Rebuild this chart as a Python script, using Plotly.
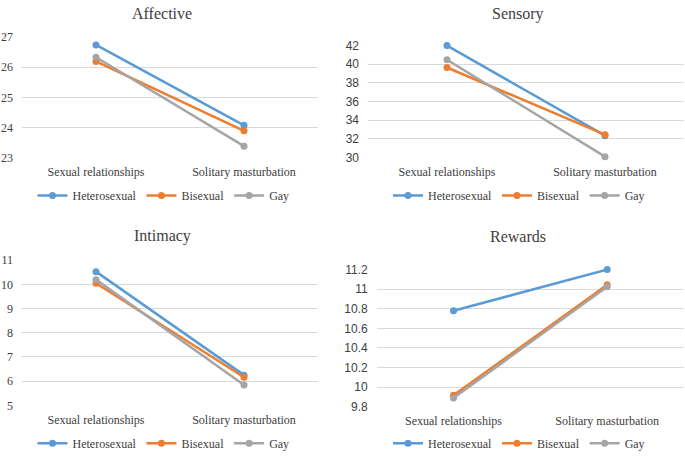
import plotly.graph_objects as go

W, H = 685, 459

categories = ["Sexual relationships", "Solitary masturbation"]
groups = ["Heterosexual", "Bisexual", "Gay"]
colors = ["#5B9BD5", "#ED7D31", "#A5A5A5"]

affective = {"Heterosexual": [26.74, 24.07], "Bisexual": [26.19, 23.89], "Gay": [26.33, 23.38]}
sensory = {"Heterosexual": [42.0, 32.35], "Bisexual": [39.65, 32.45], "Gay": [40.48, 30.1]}
intimacy = {"Heterosexual": [10.53, 6.25], "Bisexual": [10.05, 6.16], "Gay": [10.2, 5.84]}
rewards = {"Heterosexual": [10.78, 11.2], "Bisexual": [9.915, 11.045], "Gay": [9.888, 11.025]}

titles = ["Affective", "Sensory", "Intimacy", "Rewards"]
datasets = [affective, sensory, intimacy, rewards]
y_ranges = [(23, 27, 1), (30, 42, 2), (5, 11, 1), (9.8, 11.2, 0.2)]

SERIF = "Liberation Serif, Times New Roman, serif"
SANS = "Liberation Sans, Arial, sans-serif"

# panel geometry in pixels: x0, x1, ytop(px of max), ybottom(px of min)
panels = [
    (22, 318, 32, 156),
    (368, 684, 40.7, 156),
    (22, 318, 261.7, 411),
    (376.7, 684, 271.3, 412.3),
]
title_pos = [(162, 8), (518, 8), (162, 237), (518, 237)]
legend_pos = [(163.5, 195), (519, 195), (163.5, 450), (519, 450)]
tick_fonts = [SERIF, SANS, SERIF, SANS]

fig = go.Figure()
layout = dict(autosize=True, margin=dict(l=0, r=0, t=0, b=0),
              paper_bgcolor="white", plot_bgcolor="white",
              font=dict(family=SERIF, size=12, color="#404040"),
              annotations=[])

for i, (data, title) in enumerate(zip(datasets, titles)):
    n = i + 1
    xa = "x" if n == 1 else f"x{n}"
    ya = "y" if n == 1 else f"y{n}"
    lg = "legend" if n == 1 else f"legend{n}"
    for g, c in zip(groups, colors):
        fig.add_trace(go.Scatter(
            x=categories, y=data[g], name=g, mode="lines+markers",
            line=dict(color=c, width=2.5), marker=dict(color=c, size=7),
            cliponaxis=False,
            xaxis=xa, yaxis=ya, legend=lg, showlegend=True))
    x0, x1, yt, yb = panels[i]
    lo, hi, dt = y_ranges[i]
    eps = (hi - lo) * 0.004
    ppu = (yb - yt) / (hi - lo)
    yt_e = yt - eps * ppu
    yb_e = yb + eps * ppu
    xkey = "xaxis" if n == 1 else f"xaxis{n}"
    ykey = "yaxis" if n == 1 else f"yaxis{n}"
    layout[xkey] = dict(domain=[x0 / W, x1 / W], anchor=ya, type="category",
                        categoryorder="array", categoryarray=categories,
                        range=[-0.5, 1.5], showgrid=False, zeroline=False,
                        showline=False, ticks="", ticklabelstandoff=5,
                        tickfont=dict(family=SERIF, size=12, color="#404040"),
                        fixedrange=True)
    layout[ykey] = dict(domain=[1 - yb_e / H, 1 - yt_e / H], anchor=xa,
                        range=[lo - eps, hi + eps], tick0=lo, dtick=dt,
                        showgrid=True, gridcolor="#D9D9D9", gridwidth=1,
                        zeroline=False, showline=False, ticks="",
                        ticklabelstandoff=8,
                        tickfont=dict(family=tick_fonts[i], size=12, color="#404040"),
                        fixedrange=True)
    lx, ly = legend_pos[i]
    layout[lg] = dict(orientation="h", x=lx / W, y=1 - ly / H, xanchor="center",
                      yanchor="middle", bgcolor="rgba(0,0,0,0)",
                      font=dict(family=SERIF, size=12, color="#404040"),
                      itemwidth=30, tracegroupgap=0)
    tx, ty = title_pos[i]
    layout["annotations"].append(dict(
        text=title, x=tx / W, y=1 - ty / H, xref="paper", yref="paper",
        xanchor="center", yanchor="middle", showarrow=False,
        font=dict(family=SERIF, size=16, color="#404040")))

fig.update_layout(**layout)
post = ("document.body.style.margin='0';"
        "document.body.style.overflow='hidden';"
        "document.documentElement.style.overflow='hidden';"
        "var d=document.getElementById('{plot_id}');"
        "d.style.position='fixed';d.style.left='0';d.style.top='0';"
        "d.style.width='100vw';d.style.height='100vh';"
        "Plotly.Plots.resize(d);")
fig.write_html("out.html", config={"displayModeBar": False, "staticPlot": True,
                                   "responsive": True},
               default_width="100vw", default_height="100vh",
               post_script=post)
